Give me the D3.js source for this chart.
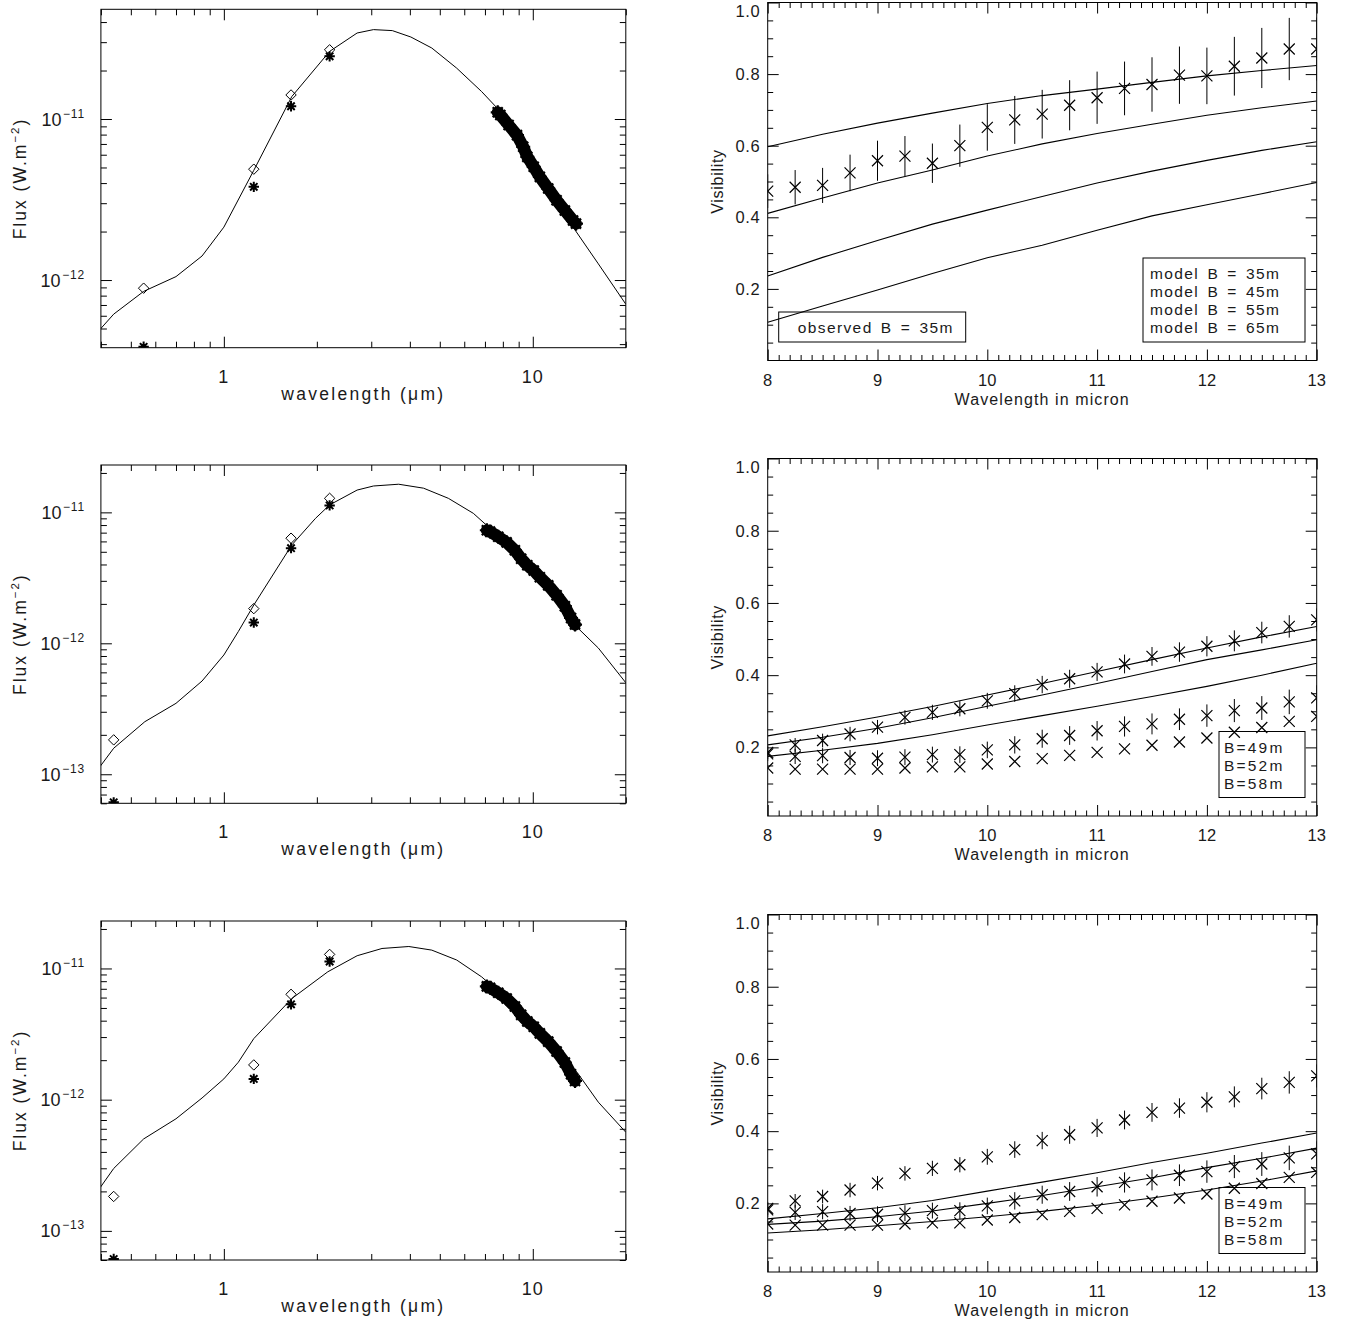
<!DOCTYPE html>
<html><head><meta charset="utf-8">
<script src="https://cdnjs.cloudflare.com/ajax/libs/d3/7.8.5/d3.min.js"></script>
<style>
body{margin:0;background:#fff}
svg{display:block}
text{font-family:"Liberation Sans",Arial,Helvetica,sans-serif;fill:#1a1a1a}
</style>
</head><body>
<svg id="c" width="1345" height="1325"></svg>
<script>
// ---------------- DATA ----------------
// SED panels (left column)
const sedXDomain = [0.4, 20];
const sedXTicks = [1, 10];
const sedXTickLabels = ["1", "10"];
const sed1YDomain = [3.8e-13, 4.8e-11];
const sed23YDomain = [6.0e-14, 2.3e-11];
const sed1YTicks = [1e-12, 1e-11];
const sed23YTicks = [1e-13, 1e-12, 1e-11];

const sed1ModelWl   = [0.398, 0.44, 0.55, 0.70, 0.85, 1.0, 1.25, 1.66, 2.2, 2.7, 3.05, 3.51, 4.03, 4.71, 5.67, 6.83, 7.97, 10.0, 13.5, 16.3, 20.0];
const sed1ModelFlux = [4.95e-13, 6.14e-13, 8.5e-13, 1.05e-12, 1.41e-12, 2.13e-12, 4.8e-12, 1.38e-11, 2.63e-11, 3.42e-11, 3.59e-11, 3.54e-11, 3.23e-11, 2.76e-11, 2.07e-11, 1.48e-11, 1.08e-11, 5.4e-12, 2.13e-12, 1.26e-12, 7.08e-13];
const sed1PhotWl    = [0.55, 1.25, 1.65, 2.2];
const sed1PhotModel = [8.9e-13, 4.88e-12, 1.41e-11, 2.69e-11];   // diamonds
const sed1PhotObs   = [3.85e-13, 3.79e-12, 1.2e-11, 2.45e-11];   // asterisks
const sed1SpecWl    = [7.7, 7.85, 8.35, 8.89, 9.31, 9.6, 10.07, 10.54, 11.22, 11.94, 12.7, 13.5, 13.8];
const sed1SpecFlux  = [1.1e-11, 1.06e-11, 9.18e-12, 7.94e-12, 6.72e-12, 5.82e-12, 5.05e-12, 4.37e-12, 3.7e-12, 3.13e-12, 2.7e-12, 2.34e-12, 2.24e-12];

const sed2ModelWl   = [0.398, 0.44, 0.555, 0.70, 0.85, 1.0, 1.114, 1.25, 1.66, 1.98, 2.2, 2.7, 3.05, 3.68, 4.43, 5.33, 6.42, 7.16, 10.0, 13.5, 16.3, 20.0];
const sed2ModelFlux = [1.15e-13, 1.58e-13, 2.52e-13, 3.48e-13, 5.15e-13, 8.14e-13, 1.23e-12, 1.96e-12, 5.64e-12, 9.0e-12, 1.14e-11, 1.48e-11, 1.59e-11, 1.64e-11, 1.53e-11, 1.28e-11, 9.83e-12, 7.8e-12, 3.96e-12, 1.42e-12, 9.2e-13, 5.0e-13];
const sed3ModelWl   = [0.398, 0.44, 0.55, 0.70, 0.85, 1.0, 1.114, 1.25, 1.66, 2.17, 2.7, 3.25, 3.97, 4.71, 5.67, 6.83, 8.2, 10.0, 12.0, 13.9, 16.3, 20.0];
const sed3ModelFlux = [2.14e-13, 2.99e-13, 5.02e-13, 7.15e-13, 1.03e-12, 1.44e-12, 1.93e-12, 2.92e-12, 5.9e-12, 9.43e-12, 1.25e-11, 1.42e-11, 1.47e-11, 1.38e-11, 1.16e-11, 8.63e-12, 5.9e-12, 3.6e-12, 2.3e-12, 1.62e-12, 9.57e-13, 5.65e-13];
const sed23PhotWl    = [0.44, 1.25, 1.65, 2.2];
const sed23PhotModel = [1.83e-13, 1.84e-12, 6.35e-12, 1.28e-11];
const sed23PhotObs   = [6.1e-14, 1.44e-12, 5.33e-12, 1.13e-11];
const sed23SpecWl    = [7.1, 7.27, 7.73, 8.23, 8.75, 9.17, 9.6, 10.07, 10.54, 11.22, 11.94, 12.7, 13.3, 13.7];
const sed23SpecFlux  = [7.3e-12, 7.13e-12, 6.52e-12, 5.9e-12, 5.13e-12, 4.43e-12, 3.94e-12, 3.6e-12, 3.2e-12, 2.77e-12, 2.33e-12, 1.92e-12, 1.56e-12, 1.39e-12];

// Visibility panels (right column)
const visXDomain = [8, 13];
const visXTicks = [8, 9, 10, 11, 12, 13];
const visYTicks = [0.2, 0.4, 0.6, 0.8, 1.0];
const vis1YDomain = [0.0, 1.0];
const vis23YDomain = [0.01, 1.0];
const visWl = [8, 8.25, 8.5, 8.75, 9, 9.25, 9.5, 9.75, 10, 10.25, 10.5, 10.75, 11, 11.25, 11.5, 11.75, 12, 12.25, 12.5, 12.75, 13];
const vis1Obs = [0.473, 0.484, 0.489, 0.524, 0.558, 0.571, 0.551, 0.600, 0.651, 0.672, 0.688, 0.713, 0.734, 0.760, 0.771, 0.797, 0.795, 0.822, 0.845, 0.870, 0.870];
const vis1Err = [0.047, 0.048, 0.049, 0.051, 0.056, 0.056, 0.055, 0.059, 0.065, 0.067, 0.068, 0.070, 0.073, 0.075, 0.076, 0.080, 0.079, 0.082, 0.084, 0.087, 0.088];
const modelWl = [8, 8.5, 9, 9.5, 10, 10.5, 11, 11.5, 12, 12.5, 13];
const vis1M35 = [0.597, 0.632, 0.663, 0.691, 0.718, 0.740, 0.758, 0.777, 0.795, 0.810, 0.824];
const vis1M45 = [0.411, 0.454, 0.496, 0.532, 0.571, 0.605, 0.634, 0.660, 0.685, 0.706, 0.725];
const vis1M55 = [0.236, 0.288, 0.335, 0.381, 0.420, 0.458, 0.496, 0.529, 0.559, 0.587, 0.611];
const vis1M65 = [0.107, 0.152, 0.197, 0.243, 0.287, 0.322, 0.364, 0.404, 0.435, 0.466, 0.497];

const vis2ObsA = [0.186, 0.207, 0.219, 0.237, 0.256, 0.283, 0.297, 0.307, 0.329, 0.349, 0.374, 0.390, 0.409, 0.431, 0.452, 0.464, 0.480, 0.495, 0.518, 0.535, 0.553];
const vis2ErrA = [0.018, 0.019, 0.019, 0.020, 0.020, 0.020, 0.021, 0.021, 0.022, 0.023, 0.024, 0.025, 0.025, 0.026, 0.026, 0.027, 0.028, 0.029, 0.030, 0.031, 0.032];
const vis2ObsB = [0.182, 0.175, 0.177, 0.172, 0.170, 0.173, 0.180, 0.180, 0.193, 0.207, 0.224, 0.233, 0.246, 0.258, 0.265, 0.278, 0.288, 0.302, 0.309, 0.326, 0.337];
const vis2ErrB = [0.020, 0.021, 0.021, 0.021, 0.022, 0.022, 0.022, 0.023, 0.023, 0.024, 0.025, 0.026, 0.027, 0.028, 0.029, 0.030, 0.031, 0.032, 0.033, 0.034, 0.035];
const vis2ObsC = [0.143, 0.140, 0.140, 0.140, 0.140, 0.143, 0.146, 0.146, 0.154, 0.161, 0.169, 0.178, 0.186, 0.196, 0.206, 0.215, 0.226, 0.242, 0.255, 0.272, 0.286];
const vis2MA = [0.232, 0.257, 0.284, 0.313, 0.345, 0.377, 0.410, 0.443, 0.475, 0.506, 0.535];
const vis2MB = [0.207, 0.228, 0.253, 0.282, 0.314, 0.345, 0.377, 0.410, 0.443, 0.470, 0.498];
const vis2MC = [0.175, 0.192, 0.211, 0.235, 0.262, 0.288, 0.314, 0.341, 0.369, 0.400, 0.433];
const vis3MA = [0.157, 0.172, 0.188, 0.208, 0.234, 0.259, 0.285, 0.313, 0.339, 0.367, 0.395];
const vis3MB = [0.142, 0.151, 0.163, 0.179, 0.200, 0.222, 0.246, 0.271, 0.299, 0.325, 0.353];
const vis3MC = [0.118, 0.127, 0.138, 0.150, 0.163, 0.178, 0.195, 0.215, 0.237, 0.262, 0.290];

const vis1LegendObs = ["observed B = 35m"];
const vis1LegendModel = ["model B = 35m", "model B = 45m", "model B = 55m", "model B = 65m"];
const vis23Legend = ["B=49m", "B=52m", "B=58m"];

// ---------------- DRAWING ----------------
const svg = d3.select("#c");
const zip = (a, b) => a.map((v, i) => [v, b[i]]);
const SYM = {
  x: "M-5.5,-5.5L5.5,5.5M-5.5,5.5L5.5,-5.5",
  diamond: "M0,-5.2L5.2,0L0,5.2L-5.2,0Z",
  star: "M0,-5.2V5.2M-5.2,0H5.2M-3.7,-3.7L3.7,3.7M-3.7,3.7L3.7,-3.7",
  bigstar: "M0,-7V7M-7,0H7M-5,-5L5,5M-5,5L5,-5"
};
let clipN = 0;

function frameAxes(g, x, y, L, R, T, B, xMajor, xMinor, yMajor, yMinor, majLen, minLen) {
  const mk = (axis, scale, vals, len, tr) => {
    const a = axis(scale).tickValues(vals).tickSize(-len).tickSizeOuter(0).tickFormat("");
    const gg = g.append("g").attr("transform", tr).call(a);
    gg.select(".domain").remove();
    gg.selectAll("line").attr("stroke", "#000").attr("stroke-width", 1);
  };
  [[xMajor, majLen], [xMinor, minLen]].forEach(([v, l]) => {
    mk(d3.axisBottom, x, v, l, `translate(0,${B})`);
    mk(d3.axisTop, x, v, l, `translate(0,${T})`);
  });
  [[yMajor, majLen], [yMinor, minLen]].forEach(([v, l]) => {
    mk(d3.axisLeft, y, v, l, `translate(${L},0)`);
    mk(d3.axisRight, y, v, l, `translate(${R},0)`);
  });
  g.append("rect").attr("x", L).attr("y", T).attr("width", R - L).attr("height", B - T)
    .attr("fill", "none").attr("stroke", "#000").attr("stroke-width", 1);
}

function drawSed(p) {
  const L = 100.9, R = 625.8, T = p.top, B = p.bottom;
  const g = svg.append("g");
  const x = d3.scaleLog().domain(sedXDomain).range([L, R]);
  const y = d3.scaleLog().domain(p.yDomain).range([B, T]);
  const id = "clip" + (clipN++);
  g.append("clipPath").attr("id", id).append("rect").attr("x", L).attr("y", T).attr("width", R - L).attr("height", B - T);
  const pl = g.append("g").attr("clip-path", `url(#${id})`);
  const line = d3.line().x(d => x(d[0])).y(d => y(d[1]));
  pl.append("path").datum(zip(p.modelWl, p.modelFlux)).attr("d", line)
    .attr("fill", "none").attr("stroke", "#000").attr("stroke-width", 1);
  const spec = zip(p.specWl, p.specFlux);
  pl.append("path").datum(spec).attr("d", line).attr("fill", "none").attr("stroke", "#000")
    .attr("stroke-width", 12).attr("stroke-linecap", "round").attr("stroke-linejoin", "round");
  pl.selectAll(".sp").data(spec).join("path").attr("d", SYM.bigstar)
    .attr("transform", d => `translate(${x(d[0])},${y(d[1])})`).attr("stroke", "#000").attr("stroke-width", 2.2).attr("fill", "none");
  pl.selectAll(".dm").data(zip(p.photWl, p.photModel)).join("path").attr("d", SYM.diamond)
    .attr("transform", d => `translate(${x(d[0])},${y(d[1])})`).attr("stroke", "#000").attr("stroke-width", 1).attr("fill", "none");
  pl.selectAll(".st").data(zip(p.photWl, p.photObs)).join("path").attr("d", SYM.star)
    .attr("transform", d => `translate(${x(d[0])},${y(d[1])})`).attr("stroke", "#000").attr("stroke-width", 2).attr("fill", "none");

  const xAll = x.ticks().filter(v => v >= sedXDomain[0] - 1e-9 && v <= sedXDomain[1] + 1e-9);
  const xMinor = xAll.filter(v => !sedXTicks.some(m => Math.abs(m - v) < 1e-9));
  const yAll = y.ticks();
  const yMinor = yAll.filter(v => !p.yTicks.some(m => Math.abs(m / v - 1) < 1e-6));
  frameAxes(g, x, y, L, R, T, B, sedXTicks, xMinor, p.yTicks, yMinor, 11, 6);

  sedXTicks.forEach((v, i) => {
    g.append("text").attr("x", x(v)).attr("y", B + 35).attr("text-anchor", "middle")
      .attr("font-size", 18).attr("letter-spacing", 1).text(sedXTickLabels[i]);
  });
  p.yTicks.forEach(v => {
    const e = Math.round(Math.log10(v));
    const t = g.append("text").attr("x", L - 16).attr("y", y(v) + 6.5).attr("text-anchor", "end").attr("font-size", 18);
    t.append("tspan").text("10");
    t.append("tspan").attr("dy", -8).attr("dx", 1.5).attr("font-size", 12).attr("letter-spacing", 0.8).text("\u2212" + Math.abs(e));
  });
  const xt = g.append("text").attr("x", (L + R) / 2).attr("y", B + 52).attr("text-anchor", "middle")
    .attr("font-size", 17.5).attr("letter-spacing", 2.3);
  xt.append("tspan").text("wavelength (");
  xt.append("tspan").text("\u03bc");
  xt.append("tspan").text("m)");
  const yt = g.append("text").attr("transform", `translate(26,${(T + B) / 2}) rotate(-90)`)
    .attr("text-anchor", "middle").attr("font-size", 17.5).attr("letter-spacing", 2);
  yt.append("tspan").text("Flux (W.m");
  yt.append("tspan").attr("dy", -7).attr("font-size", 11.5).text("\u22122");
  yt.append("tspan").attr("dy", 7).text(")");
}

function drawVis(p) {
  const L = 767.7, R = 1316.7, T = p.top, B = p.bottom;
  const g = svg.append("g");
  const x = d3.scaleLinear().domain(visXDomain).range([L, R]);
  const y = d3.scaleLinear().domain(p.yDomain).range([B, T]);
  const id = "clip" + (clipN++);
  g.append("clipPath").attr("id", id).append("rect").attr("x", L).attr("y", T).attr("width", R - L).attr("height", B - T);
  const pl = g.append("g").attr("clip-path", `url(#${id})`);
  const line = d3.line().x(d => x(d[0])).y(d => y(d[1]));
  p.models.forEach(m => {
    pl.append("path").datum(zip(modelWl, m)).attr("d", line)
      .attr("fill", "none").attr("stroke", "#000").attr("stroke-width", 1.1);
  });
  p.obs.forEach(o => {
    const pts = o.v.map((v, i) => ({w: visWl[i], v, e: o.e ? o.e[i] : 0}));
    if (o.e) {
      pl.selectAll(null).data(pts).join("line")
        .attr("x1", d => x(d.w)).attr("x2", d => x(d.w))
        .attr("y1", d => y(d.v - d.e)).attr("y2", d => y(d.v + d.e))
        .attr("stroke", "#000").attr("stroke-width", 1);
    }
    pl.selectAll(null).data(pts).join("path").attr("d", SYM.x)
      .attr("transform", d => `translate(${x(d.w)},${y(d.v)})`)
      .attr("stroke", "#000").attr("stroke-width", 1.2).attr("fill", "none");
  });
  const xMinor = d3.range(80, 131).map(v => v / 10).filter(v => !visXTicks.includes(v));
  const yMinor = d3.range(1, 20).map(v => v * 0.05).filter(v => Math.abs(v * 5 - Math.round(v * 5)) > 1e-6 && v >= p.yDomain[0]);
  frameAxes(g, x, y, L, R, T, B, visXTicks, xMinor, visYTicks, yMinor, 11, 5.5);

  visXTicks.forEach(v => {
    g.append("text").attr("x", x(v)).attr("y", B + 25).attr("text-anchor", "middle")
      .attr("font-size", 16.5).text(String(v));
  });
  visYTicks.forEach(v => {
    const cy = Math.max(y(v), T + 8);
    g.append("text").attr("x", L - 7.5).attr("y", cy + 6).attr("text-anchor", "end")
      .attr("font-size", 16.5).attr("letter-spacing", 0.6).text(d3.format(".1f")(v));
  });
  g.append("text").attr("x", (L + R) / 2).attr("y", B + 44).attr("text-anchor", "middle")
    .attr("font-size", 16).attr("letter-spacing", 1.1).text("Wavelength in micron");
  g.append("text").attr("transform", `translate(723,${(T + B) / 2}) rotate(-90)`)
    .attr("text-anchor", "middle").attr("font-size", 16).attr("letter-spacing", 0.7).text("Visibility");

  p.legends.forEach(lg => {
    const h = lg.lines.length * 18 + 12;
    const bx = lg.side === "left" ? L + 11 : R - 11.7 - lg.w;
    const by = B - 18.5 - h;
    g.append("rect").attr("x", bx).attr("y", by).attr("width", lg.w).attr("height", h)
      .attr("fill", "none").attr("stroke", "#000").attr("stroke-width", 1);
    lg.lines.forEach((s, i) => {
      g.append("text").attr("x", bx + lg.pad).attr("y", by + 21 + i * 18)
        .attr("font-size", 15.5).attr("letter-spacing", lg.ls).attr("word-spacing", 2.5)
        .attr("xml:space", "preserve").text(s);
    });
  });
}

drawSed({top: 9.3, bottom: 347.7, yDomain: sed1YDomain, yTicks: sed1YTicks,
  modelWl: sed1ModelWl, modelFlux: sed1ModelFlux, photWl: sed1PhotWl, photModel: sed1PhotModel, photObs: sed1PhotObs,
  specWl: sed1SpecWl, specFlux: sed1SpecFlux});
drawSed({top: 465, bottom: 803.3, yDomain: sed23YDomain, yTicks: sed23YTicks,
  modelWl: sed2ModelWl, modelFlux: sed2ModelFlux, photWl: sed23PhotWl, photModel: sed23PhotModel, photObs: sed23PhotObs,
  specWl: sed23SpecWl, specFlux: sed23SpecFlux});
drawSed({top: 921, bottom: 1260, yDomain: sed23YDomain, yTicks: sed23YTicks,
  modelWl: sed3ModelWl, modelFlux: sed3ModelFlux, photWl: sed23PhotWl, photModel: sed23PhotModel, photObs: sed23PhotObs,
  specWl: sed23SpecWl, specFlux: sed23SpecFlux});

drawVis({top: 2.5, bottom: 360.5, yDomain: vis1YDomain,
  models: [vis1M35, vis1M45, vis1M55, vis1M65],
  obs: [{v: vis1Obs, e: vis1Err}],
  legends: [{side: "left", w: 187, pad: 19, ls: 1.4, lines: vis1LegendObs},
            {side: "right", w: 162, pad: 7, ls: 1.4, lines: vis1LegendModel}]});
drawVis({top: 458.5, bottom: 816, yDomain: vis23YDomain,
  models: [vis2MA, vis2MB, vis2MC],
  obs: [{v: vis2ObsA, e: vis2ErrA}, {v: vis2ObsB, e: vis2ErrB}, {v: vis2ObsC}],
  legends: [{side: "right", w: 86, pad: 5, ls: 2.2, lines: vis23Legend}]});
drawVis({top: 914.5, bottom: 1272, yDomain: vis23YDomain,
  models: [vis3MA, vis3MB, vis3MC],
  obs: [{v: vis2ObsA, e: vis2ErrA}, {v: vis2ObsB, e: vis2ErrB}, {v: vis2ObsC}],
  legends: [{side: "right", w: 86, pad: 5, ls: 2.2, lines: vis23Legend}]});
</script>
</body></html>
